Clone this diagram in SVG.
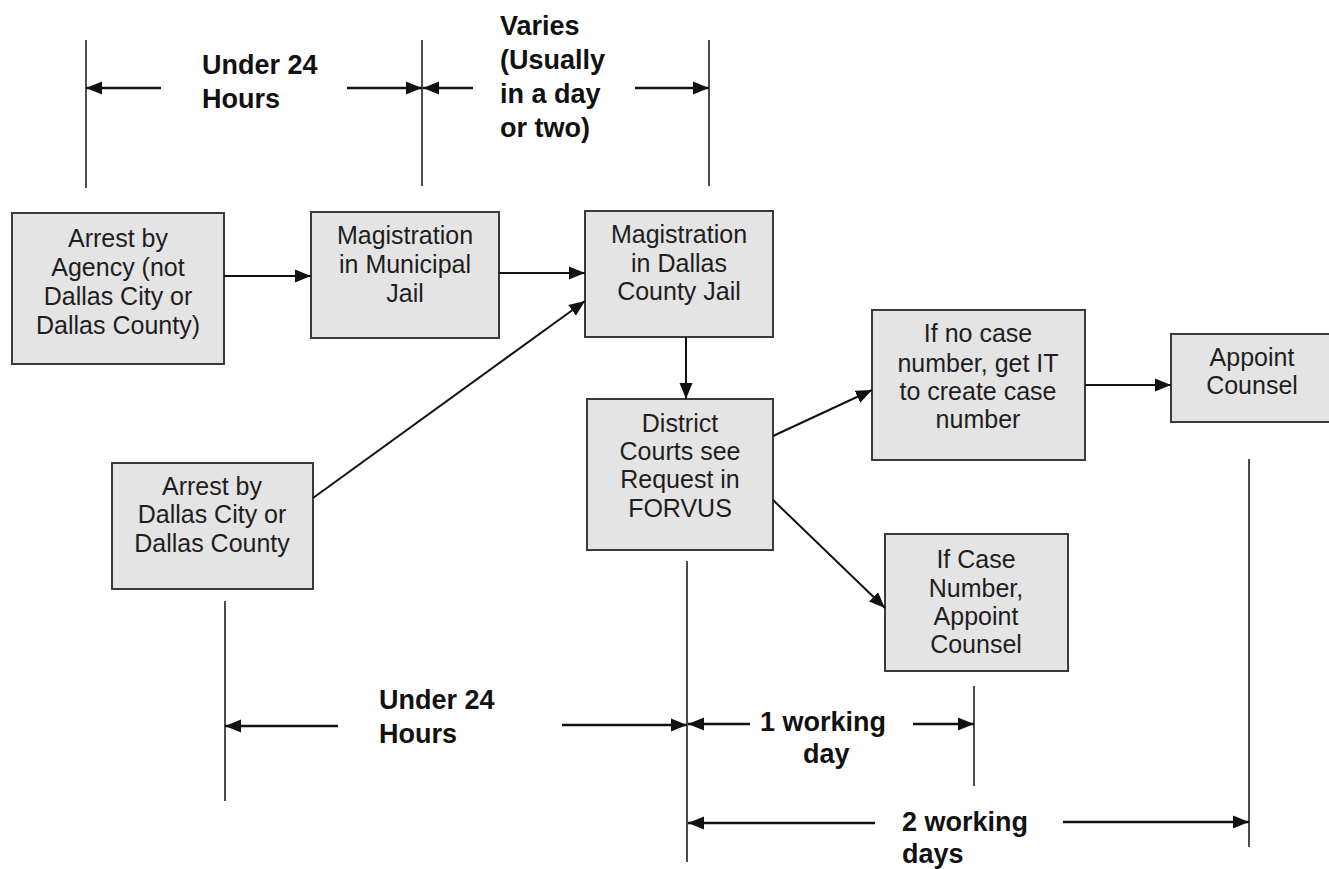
<svg xmlns="http://www.w3.org/2000/svg" width="1329" height="869" viewBox="0 0 1329 869">
<defs>
<marker id="ah" markerUnits="userSpaceOnUse" markerWidth="17" markerHeight="14" refX="16" refY="7" orient="auto">
<path d="M0,0.5 L16,7 L0,13.5 z" fill="#111"/>
</marker>
</defs>
<style>
.box{fill:#e4e4e4;stroke:#3a3a3a;stroke-width:2}
.nt{font-family:"Liberation Sans",Arial,sans-serif;font-size:25px;fill:#1e1e1e;text-anchor:middle}
.lb{font-family:"Liberation Sans",Arial,sans-serif;font-size:27px;font-weight:bold;fill:#111}
.tl{stroke:#111;stroke-width:1.5;fill:none}
.cn{stroke:#111;stroke-width:2;fill:none;marker-end:url(#ah)}
.ar{stroke:#111;stroke-width:2.5;fill:none;marker-end:url(#ah)}
</style>
<rect width="1329" height="869" fill="#ffffff"/>

<g id="n1">
<rect class="box" x="12" y="213" width="212" height="151"/>
<text class="nt" x="118" y="247">Arrest by</text>
<text class="nt" x="118" y="276">Agency (not</text>
<text class="nt" x="118" y="305">Dallas City or</text>
<text class="nt" x="118" y="334">Dallas County)</text>
</g>
<g id="n2">
<rect class="box" x="311" y="212" width="188" height="126"/>
<text class="nt" x="405" y="244">Magistration</text>
<text class="nt" x="405" y="273">in Municipal</text>
<text class="nt" x="405" y="302">Jail</text>
</g>
<g id="n3">
<rect class="box" x="585" y="211" width="188" height="126"/>
<text class="nt" x="679" y="243">Magistration</text>
<text class="nt" x="679" y="272">in Dallas</text>
<text class="nt" x="679" y="300">County Jail</text>
</g>
<g id="n4">
<rect class="box" x="587" y="399" width="186" height="151"/>
<text class="nt" x="680" y="432">District</text>
<text class="nt" x="680" y="460">Courts see</text>
<text class="nt" x="680" y="488">Request in</text>
<text class="nt" x="680" y="517">FORVUS</text>
</g>
<g id="n5">
<rect class="box" x="872" y="310" width="213" height="150"/>
<text class="nt" x="978" y="342">If no case</text>
<text class="nt" x="978" y="372">number, get IT</text>
<text class="nt" x="978" y="400">to create case</text>
<text class="nt" x="978" y="428">number</text>
</g>
<g id="n6">
<rect class="box" x="1171" y="334" width="170" height="88"/>
<text class="nt" x="1252" y="366">Appoint</text>
<text class="nt" x="1252" y="394">Counsel</text>
</g>
<g id="n7">
<rect class="box" x="112" y="463" width="201" height="126"/>
<text class="nt" x="212" y="495">Arrest by</text>
<text class="nt" x="212" y="523">Dallas City or</text>
<text class="nt" x="212" y="552">Dallas County</text>
</g>
<g id="n8">
<rect class="box" x="885" y="534" width="183" height="137"/>
<text class="nt" x="976" y="568">If Case</text>
<text class="nt" x="976" y="597">Number,</text>
<text class="nt" x="976" y="625">Appoint</text>
<text class="nt" x="976" y="653">Counsel</text>
</g>

<g id="connectors">
<line class="cn" x1="224" y1="276" x2="311" y2="276"/>
<line class="cn" x1="499" y1="273" x2="585" y2="273"/>
<line class="cn" x1="313" y1="498" x2="585" y2="301"/>
<line class="cn" x1="686" y1="337" x2="686" y2="399"/>
<line class="cn" x1="773" y1="436" x2="872" y2="390"/>
<line class="cn" x1="1085" y1="385" x2="1171" y2="385"/>
<line class="cn" x1="773" y1="500" x2="885" y2="608"/>
</g>

<g id="timeline">
<line class="tl" x1="86" y1="40" x2="86" y2="188"/>
<line class="tl" x1="422" y1="40" x2="422" y2="186"/>
<line class="tl" x1="709" y1="40" x2="709" y2="186"/>
<line class="ar" x1="161" y1="88" x2="86" y2="88"/>
<line class="ar" x1="347" y1="88" x2="422" y2="88"/>
<line class="ar" x1="473" y1="88" x2="423" y2="88"/>
<line class="ar" x1="635" y1="88" x2="709" y2="88"/>
<text class="lb" x="202" y="74">Under 24</text>
<text class="lb" x="202" y="108">Hours</text>
<text class="lb" x="500" y="35">Varies</text>
<text class="lb" x="500" y="69">(Usually</text>
<text class="lb" x="500" y="103">in a day</text>
<text class="lb" x="500" y="137">or two)</text>

<line class="tl" x1="225" y1="601" x2="225" y2="801"/>
<line class="tl" x1="687" y1="561" x2="687" y2="862"/>
<line class="tl" x1="974" y1="686" x2="974" y2="786"/>
<line class="tl" x1="1249" y1="459" x2="1249" y2="847"/>
<line class="ar" x1="338" y1="726" x2="225" y2="726"/>
<line class="ar" x1="562" y1="725" x2="687" y2="725"/>
<line class="ar" x1="750" y1="724" x2="688" y2="724"/>
<line class="ar" x1="913" y1="724" x2="974" y2="724"/>
<line class="ar" x1="875" y1="823" x2="688" y2="823"/>
<line class="ar" x1="1063" y1="822" x2="1249" y2="822"/>
<text class="lb" x="379" y="709">Under 24</text>
<text class="lb" x="379" y="743">Hours</text>
<text class="lb" x="760" y="731">1 working</text>
<text class="lb" x="803" y="763">day</text>
<text class="lb" x="902" y="831">2 working</text>
<text class="lb" x="902" y="863">days</text>
</g>
</svg>
